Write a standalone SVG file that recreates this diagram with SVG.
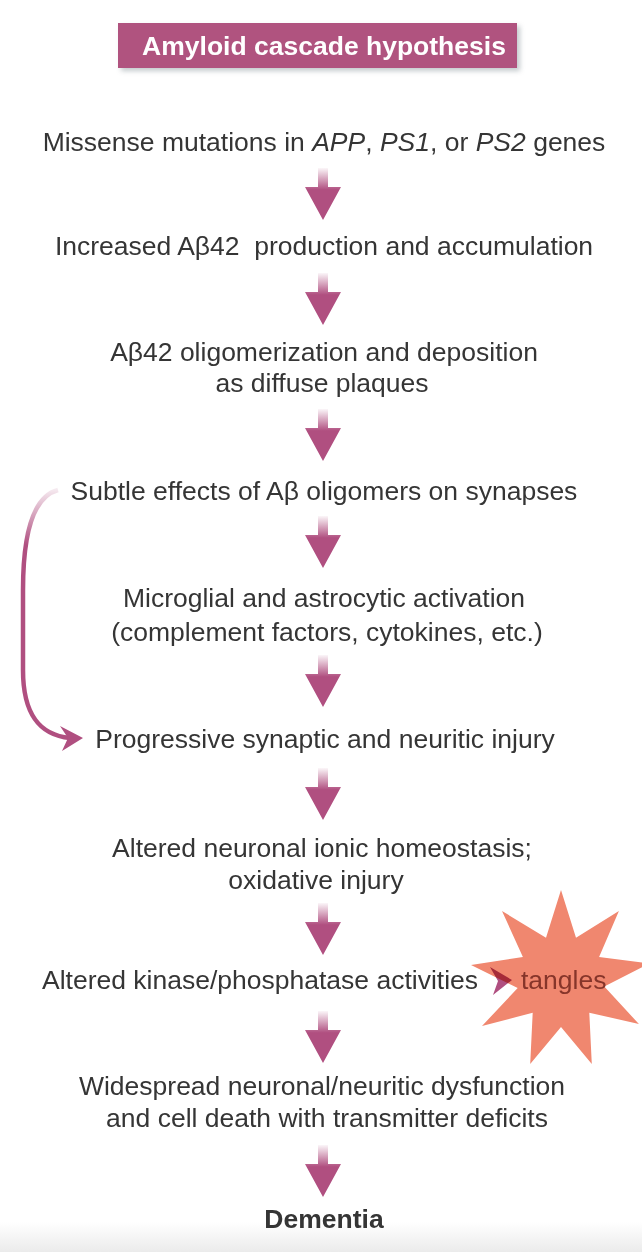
<svg xmlns="http://www.w3.org/2000/svg" width="642" height="1252" viewBox="0 0 642 1252">
<style>
  .t { font-family: "Liberation Sans", Arial, Helvetica, sans-serif; font-size: 26.5px; fill: #353535; text-anchor: middle; }
  .b { font-weight: bold; }
  .i { font-style: italic; }
</style>
<defs>
  <linearGradient id="ag" x1="0" y1="0" x2="0" y2="1">
    <stop offset="0" stop-color="#b04f80" stop-opacity="0.05"/>
    <stop offset="0.42" stop-color="#b04f80" stop-opacity="1"/>
    <stop offset="1" stop-color="#b04f80"/>
  </linearGradient>
  <linearGradient id="cg" gradientUnits="userSpaceOnUse" x1="0" y1="488" x2="0" y2="545">
    <stop offset="0" stop-color="#b04f80" stop-opacity="0.1"/>
    <stop offset="1" stop-color="#b04f80" stop-opacity="1"/>
  </linearGradient>
  <linearGradient id="bg" x1="0" y1="0" x2="0" y2="1">
    <stop offset="0" stop-color="#ffffff"/>
    <stop offset="1" stop-color="#ebebeb"/>
  </linearGradient>
  <filter id="sh" x="-10%" y="-30%" width="120%" height="170%">
    <feDropShadow dx="3" dy="3" stdDeviation="2.5" flood-color="#7a8a90" flood-opacity="0.45"/>
  </filter>
  <path id="dn" d="M-5,-52 H5 V-33 H18 L0,0 L-18,-33 H-5 Z" fill="url(#ag)"/>
</defs>
<rect x="0" y="0" width="642" height="1252" fill="#ffffff"/>
<rect x="0" y="1222" width="642" height="30" fill="url(#bg)"/>

<g id="title">
  <rect x="118" y="23" width="399" height="45" fill="#b0527f" filter="url(#sh)"/>
  <text class="t b" x="324" y="55" style="fill:#ffffff">Amyloid cascade hypothesis</text>
</g>

<g id="n1"><text class="t" x="324" y="151">Missense mutations in <tspan class="i">APP</tspan>, <tspan class="i">PS1</tspan>, or <tspan class="i">PS2</tspan> genes</text></g>
<g id="n2"><text class="t" x="324" y="255">Increased Aβ42 &#160;production and accumulation</text></g>
<g id="n3"><text class="t" x="324" y="361">Aβ42 oligomerization and deposition</text><text class="t" x="322" y="392">as diffuse plaques</text></g>
<g id="n4"><text class="t" x="324" y="500">Subtle effects of Aβ oligomers on synapses</text></g>
<g id="n5"><text class="t" x="324" y="607">Microglial and astrocytic activation</text><text class="t" x="327" y="641">(complement factors, cytokines, etc.)</text></g>
<g id="n6"><text class="t" x="325" y="748">Progressive synaptic and neuritic injury</text></g>
<g id="n7"><text class="t" x="322" y="857">Altered neuronal ionic homeostasis;</text><text class="t" x="316" y="889">oxidative injury</text></g>
<g id="n8"><text class="t" x="42" y="989" style="text-anchor:start">Altered kinase/phosphatase activities</text></g>
<g id="star">
  <polygon fill="#f0876f" points="561,890 576,937.7 618.9,911 599.1,957 649.6,963.4 604.3,986.6 638.9,1024 589.3,1012.7 591.8,1064 561,1027 530.2,1064 532.7,1012.7 482,1026 517.7,988 471,965 522.9,957 502,911 546,937.7"/>
  <text class="t" x="521" y="989" style="text-anchor:start;fill:#86352a">tangles</text>
</g>
<g id="n9"><text class="t" x="322" y="1095">Widespread neuronal/neuritic dysfunction</text><text class="t" x="327" y="1127">and cell death with transmitter deficits</text></g>
<g id="n10"><text class="t b" x="324" y="1228">Dementia</text></g>

<g id="connectors">
  <use href="#dn" x="323" y="220"/>
  <use href="#dn" x="323" y="325"/>
  <use href="#dn" x="323" y="461"/>
  <use href="#dn" x="323" y="568"/>
  <use href="#dn" x="323" y="707"/>
  <use href="#dn" x="323" y="820"/>
  <use href="#dn" x="323" y="955"/>
  <use href="#dn" x="323" y="1063"/>
  <use href="#dn" x="323" y="1197"/>
  <path d="M58,490 C35,496 23,530 23,590 L23,670 C23,715 40,735 70,738" fill="none" stroke="url(#cg)" stroke-width="4.5"/>
  <polygon points="83,738 60,726 68,738 62,751" fill="#b04f80"/>
  <polygon points="490,967 512,980 493,995 498,981" fill="#b04f80" style="mix-blend-mode:multiply"/>
</g>
</svg>
